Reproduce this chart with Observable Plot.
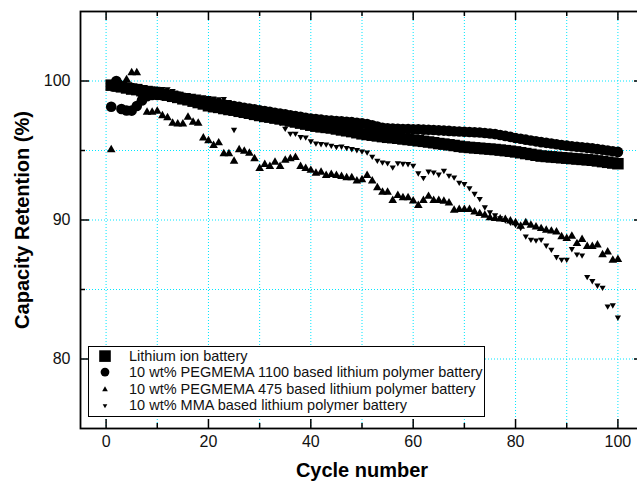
<!DOCTYPE html>
<html><head><meta charset="utf-8">
<script src="https://cdn.jsdelivr.net/npm/d3@7"></script>
<script src="https://cdn.jsdelivr.net/npm/@observablehq/plot@0.6"></script>
<style>
body{margin:0;background:#fff;}
#wrap{position:relative;width:637px;height:486px;overflow:hidden;font-family:"Liberation Sans",Arial,Helvetica,sans-serif;background:#fff;}
#legend{position:absolute;left:88px;top:346px;width:397px;height:71px;border:1px solid #000;background:#fff;box-sizing:border-box;padding-top:1px;}
.row{position:relative;height:16.3px;line-height:16.3px;font-size:14.5px;color:#111;white-space:nowrap;}
.row svg{position:absolute;left:10px;top:0;}
.row span{position:absolute;left:40px;top:0;}
</style>
</head><body>
<div id="wrap"><div id="chart"></div><div id="legend"></div></div>
<script>
const cycles = d3.range(1, 101);

const liIon = [
99.70,99.65,99.58,99.50,99.42,99.38,99.30,99.24,99.18,99.10,
99.05,98.98,98.90,98.82,98.72,98.65,98.55,98.45,98.35,98.22,
98.15,98.10,98.02,97.95,97.90,97.82,97.75,97.68,97.60,97.52,
97.45,97.40,97.33,97.27,97.20,97.12,97.05,96.97,96.90,96.82,
96.75,96.70,96.66,96.62,96.55,96.48,96.42,96.36,96.28,96.20,
96.15,96.10,96.05,96.00,95.95,95.92,95.88,95.83,95.79,95.75,
95.70,95.66,95.61,95.56,95.50,95.46,95.41,95.36,95.30,95.25,
95.22,95.19,95.16,95.13,95.10,95.07,95.03,94.99,94.95,94.90,
94.84,94.78,94.72,94.66,94.60,94.57,94.54,94.51,94.48,94.45,
94.42,94.39,94.36,94.33,94.30,94.25,94.20,94.15,94.10,94.05];

const peg1100 = [
98.15,100.0,97.99,97.88,97.87,98.20,98.60,98.90,99.00,99.00,
98.98,98.95,98.90,98.86,98.80,98.74,98.68,98.62,98.56,98.50,
98.44,98.38,98.32,98.26,98.20,98.14,98.08,98.02,97.96,97.90,
97.84,97.78,97.72,97.66,97.60,97.54,97.48,97.42,97.36,97.30,
97.26,97.22,97.18,97.15,97.12,97.10,97.07,97.04,97.00,96.95,
96.90,96.82,96.72,96.64,96.60,96.58,96.56,96.55,96.54,96.53,
96.52,96.50,96.49,96.47,96.45,96.43,96.41,96.39,96.37,96.35,
96.33,96.31,96.29,96.26,96.22,96.18,96.12,96.05,95.98,95.90,
95.84,95.78,95.72,95.66,95.60,95.55,95.50,95.45,95.40,95.35,
95.31,95.27,95.23,95.19,95.15,95.10,95.05,95.00,94.95,94.90];

const peg475 = [
95.05,99.40,99.70,100.1,100.6,100.6,99.00,97.75,97.75,97.82,
97.50,97.35,96.96,96.90,96.90,97.40,97.03,96.96,95.90,95.70,
95.36,95.55,94.76,94.76,94.23,95.05,94.95,94.80,94.40,93.70,
94.00,93.85,94.16,93.85,94.30,94.40,94.50,93.85,93.70,93.57,
93.37,93.44,93.20,93.28,93.20,93.13,93.04,93.04,92.80,92.90,
93.20,92.80,92.32,92.00,92.00,91.41,91.77,91.60,91.60,91.36,
91.05,91.41,91.70,91.40,91.40,91.35,91.22,90.70,90.75,90.75,
90.75,90.57,90.46,90.34,90.17,90.10,90.08,90.03,89.93,89.80,
89.55,89.80,89.62,89.50,89.38,89.26,89.20,89.14,88.80,88.67,
88.83,88.30,88.60,88.10,88.10,88.20,87.50,87.70,87.10,87.16];

const mma = [
99.90,99.85,99.80,99.75,99.73,99.60,99.55,99.50,99.48,99.45,
99.44,99.43,99.30,99.12,99.02,99.00,98.95,98.90,98.85,98.80,
98.75,98.70,98.72,98.50,96.50,97.95,97.85,97.75,97.65,97.55,
97.45,97.35,97.20,97.00,96.58,96.22,96.22,95.98,95.95,95.68,
95.52,95.48,95.45,95.36,95.27,95.30,95.20,95.12,95.05,94.95,
94.88,94.57,94.28,94.16,94.10,93.80,94.10,94.06,94.04,93.92,
93.37,93.04,93.50,93.44,93.28,93.55,93.20,93.08,92.70,92.60,
92.30,91.90,91.53,90.93,90.57,90.35,90.15,89.98,89.82,89.66,
89.45,88.83,88.60,88.54,88.60,88.18,87.88,87.35,87.16,87.16,
87.92,87.54,87.47,85.92,85.62,85.30,85.15,83.80,83.88,83.00];

const seriesNames = [
  "Lithium ion battery",
  "10 wt% PEGMEMA 1100 based lithium polymer battery",
  "10 wt% PEGMEMA 475 based lithium polymer battery",
  "10 wt% MMA based lithium polymer battery"
];
const xMajor = [0, 20, 40, 60, 80, 100];
const xMinor = [10, 30, 50, 70, 90];
const xGrid = [0, 10, 20, 30, 40, 50, 60, 70, 80, 90, 100];
const yMajor = [80, 90, 100];
const yMinor = [85, 95];
const yGrid = [80, 85, 90, 95, 100];
const xLabel = "Cycle number";
const yLabel = "Capacity Retention (%)";

const rows = vals => vals.map((v, i) => ({cycle: cycles[i], value: v}));

const W = 637, H = 486, mt = 11, mb = 58, ml = 80, mr = -6;
const innerH = H - mt - mb, innerW = W - ml - mr;
const gridStyle = {stroke: "#00e6ff", strokeOpacity: 1, strokeWidth: 1, strokeDasharray: "1,2"};
const tk = {stroke: "black", strokeWidth: 1.5};

const chart = Plot.plot({
  width: W, height: H,
  marginTop: mt, marginBottom: mb, marginLeft: ml, marginRight: mr,
  x: {domain: [-5, 105]},
  y: {domain: [75, 105]},
  style: {fontFamily: "'Liberation Sans', Arial, sans-serif", fontSize: "16px", color: "black", background: "white"},
  marks: [
    Plot.gridX(xGrid, gridStyle),
    Plot.gridY(yGrid, gridStyle),
    Plot.dot(rows(liIon), {x: "cycle", y: "value", symbol: "square", r: 6.5, fill: "black", stroke: "none"}),
    Plot.dot(rows(peg1100), {x: "cycle", y: "value", symbol: "circle", r: 5.3, fill: "black", stroke: "none"}),
    Plot.dot(rows(peg475), {x: "cycle", y: "value", symbol: "triangle", r: 3.2, fill: "black", stroke: "none"}),
    Plot.dot(rows(mma), {x: "cycle", y: "value", symbol: "triangle", r: 2.3, rotate: 180, fill: "black", stroke: "none"}),
    Plot.tickX(xMajor, {...tk, insetTop: innerH - 9}),
    Plot.tickX(xMajor, {...tk, insetBottom: innerH - 9}),
    Plot.tickX(xMinor, {...tk, insetTop: innerH - 5}),
    Plot.tickX(xMinor, {...tk, insetBottom: innerH - 5}),
    Plot.tickY(yMajor, {...tk, insetRight: innerW - 9}),
    Plot.tickY(yMajor, {...tk, insetLeft: innerW - 9}),
    Plot.tickY(yMinor, {...tk, insetRight: innerW - 5}),
    Plot.tickY(yMinor, {...tk, insetLeft: innerW - 5}),
    Plot.frame({stroke: "black", strokeWidth: 1.8}),
    Plot.axisX({ticks: xMajor, tickSize: 0, tickPadding: 7, label: null, fill: "#111"}),
    Plot.axisX({ticks: [], label: xLabel, labelAnchor: "center", labelArrow: "none", labelOffset: 48, fontWeight: "bold", fontSize: 20}),
    Plot.axisY({ticks: yMajor, tickSize: 0, tickPadding: 10, label: null, fill: "#111"}),
    Plot.axisY({ticks: [], label: yLabel, labelAnchor: "center", labelArrow: "none", labelOffset: 66, fontWeight: "bold", fontSize: 20})
  ]
});
document.getElementById("chart").appendChild(chart);

// legend
const symbols = [
  '<rect x="0.2" y="2.3" width="11.6" height="11.6" fill="black"/>',
  '<circle cx="6" cy="8.1" r="4.4" fill="black"/>',
  '<path d="' + d3.symbol(d3.symbolTriangle, Math.PI * 2.1 * 2.1)() + '" transform="translate(6,8.6)" fill="black"/>',
  '<path d="' + d3.symbol(d3.symbolTriangle, Math.PI * 1.7 * 1.7)() + '" transform="translate(6,8.6) rotate(180)" fill="black"/>'
];
const legend = document.getElementById("legend");
seriesNames.forEach((name, i) => {
  const row = document.createElement("div");
  row.className = "row";
  row.innerHTML = '<svg width="12" height="16" viewBox="0 0 12 16">' + symbols[i] + '</svg><span></span>';
  row.querySelector("span").textContent = name;
  legend.appendChild(row);
});
</script>
</body></html>
